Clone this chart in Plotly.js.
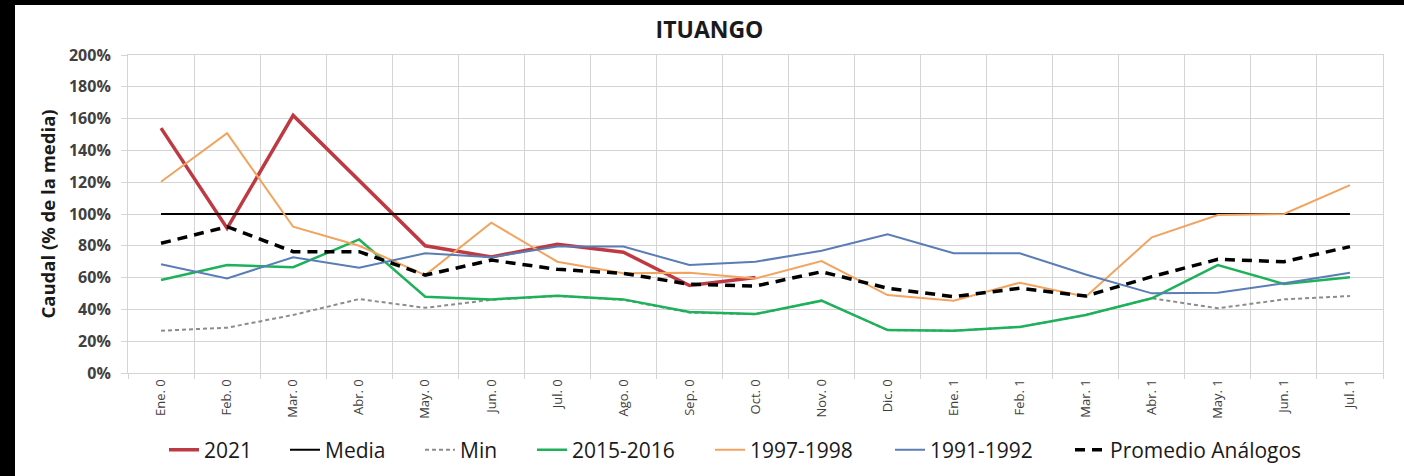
<!DOCTYPE html>
<html>
<head>
<meta charset="utf-8">
<script src="https://cdn.plot.ly/plotly-3.0.1.min.js"></script>
<style>
  html, body { margin: 0; padding: 0; background: #000; width: 1404px; height: 476px; overflow: hidden; }
  #chart { position: absolute; left: 15px; top: 5px; width: 1389px; height: 471px; background: #fff; }
</style>
</head>
<body>
<div id="chart"></div>
<script>
const categories = ['Ene. 0','Feb. 0','Mar. 0','Abr. 0','May. 0','Jun. 0','Jul. 0','Ago. 0','Sep. 0','Oct. 0','Nov. 0','Dic. 0','Ene. 1','Feb. 1','Mar. 1','Abr. 1','May. 1','Jun. 1','Jul. 1'];
const serie2021   = [154, 91, 162, 121, 80, 73, 81, 76, 55, 60];
const media       = [100,100,100,100,100,100,100,100,100,100,100,100,100,100,100,100,100,100,100];
const minimo      = [26.6, 28.5, 36.5, 46.5, 41, 46, 48.5, 46, 38, 37, 45.5, 27, 26.6, 29, 36.5, 47, 40.7, 46.3, 48.4];
const serie1516   = [58.5, 67.9, 66.5, 84, 48, 46.3, 48.6, 46.3, 38.3, 37.1, 45.5, 27, 26.6, 29, 36.5, 47, 67.9, 56, 60.2];
const serie9798   = [120.3, 150.8, 92, 80, 61.6, 94.5, 70, 62.7, 63.1, 59.5, 70.4, 49, 45.5, 56.8, 48, 85.3, 99.4, 100, 118.2];
const serie9192   = [68.4, 59.5, 72.8, 66.2, 75.3, 72.8, 79.5, 79.5, 67.9, 70, 76.9, 87.2, 75.3, 75.3, 62, 50.1, 50.5, 56.4, 63.1];
const promedio    = [81.6, 92, 76.3, 76.3, 61.6, 71, 65.2, 62.7, 55.8, 54.7, 63.7, 53.3, 48, 53.3, 48.4, 60.6, 71.5, 70, 79.5];

// legend text start positions (page px) for each series' own legend box
const legendTextStart = [204, 325, 460, 572, 750, 930, 1110];

const specs = [
  {name:'2021', y: serie2021, line:{color:'#BE3A43', width:3.5}},
  {name:'Media', y: media, line:{color:'#000000', width:2}},
  {name:'Min', y: minimo, line:{color:'#8C8C8C', width:2, dash:'4px,3px'}},
  {name:'2015-2016', y: serie1516, line:{color:'#1DB25A', width:2.5}},
  {name:'1997-1998', y: serie9798, line:{color:'#F2A35E', width:2}},
  {name:'1991-1992', y: serie9192, line:{color:'#5A7DB5', width:2}},
  {name:'Promedio Análogos', y: promedio, line:{color:'#000000', width:3.5, dash:'10px,7px'}}
];
const legendIds = ['legend','legend2','legend3','legend4','legend5','legend6','legend7'];

const traces = specs.map((t, i) => Object.assign({
  type:'scatter', mode:'lines', x: categories.slice(0, t.y.length), hoverinfo:'skip', legend: legendIds[i]
}, t));

const layout = {
  width: 1389, height: 471,
  margin: {l:113, r:21, t:50, b:103},
  paper_bgcolor: '#ffffff', plot_bgcolor: '#ffffff',
  title: {text:'ITUANGO', font:{family:'Open Sans', size:23, weight:'bold', color:'#1a1a1a'},
          x:0.5, xref:'container', y:0.947, yref:'container', yanchor:'middle'},
  xaxis: {
    type:'category', categoryorder:'array', categoryarray: categories,
    tickson:'boundaries', showgrid:true, gridcolor:'#D4D4D4', gridwidth:1,
    ticks:'outside', ticklen:5, tickcolor:'#D4D4D4',
    showline:true, linecolor:'#D4D4D4', mirror:true,
    tickangle:-90, tickfont:{family:'Open Sans', size:13, color:'#404040'},
    range:[-0.5, 18.5], zeroline:false
  },
  yaxis: {
    range:[0,200], dtick:20, ticksuffix:'%',
    showgrid:true, gridcolor:'#D4D4D4', gridwidth:1,
    ticks:'outside', ticklen:6, tickcolor:'#D4D4D4',
    showline:true, linecolor:'#D4D4D4', mirror:true, zeroline:false,
    tickfont:{family:'Open Sans', size:16, weight:'bold', color:'#404040'},
    ticklabelstandoff: 7,
    title:{text:'Caudal (% de la media)', font:{family:'Open Sans', size:18.5, weight:'bold', color:'#1a1a1a'}, standoff:8}
  },
  showlegend: true
};

legendIds.forEach((id, i) => {
  layout[id] = {
    orientation:'h', xref:'container', yref:'container',
    x: (legendTextStart[i] - 15 - 40) / 1389, xanchor:'left',
    y: 0.055, yanchor:'middle',
    font:{family:'Open Sans', size:21, color:'#1a1a1a'}, itemwidth:30,
    bgcolor:'rgba(0,0,0,0)', borderwidth:0
  };
});

Plotly.newPlot('chart', traces, layout, {staticPlot:true, displayModeBar:false});
</script>
</body>
</html>
